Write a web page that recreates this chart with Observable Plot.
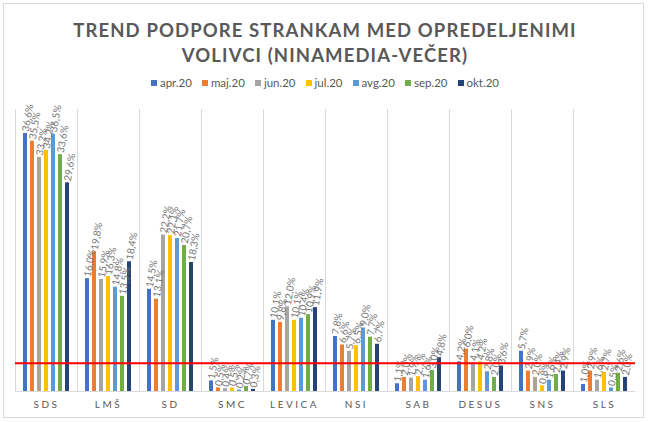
<!DOCTYPE html>
<html>
<head>
<meta charset="utf-8">
<script src="https://cdn.jsdelivr.net/npm/d3@7"></script>
<script src="https://cdn.jsdelivr.net/npm/@observablehq/plot@0.6"></script>
<style>
  html, body { margin: 0; padding: 0; background: #fff; }
  body { width: 650px; height: 422px; position: relative; overflow: hidden; font-family: Lato, "Open Sans", sans-serif; }
  #frame { position: absolute; left: 3px; top: 3px; width: 641px; height: 415px; border: 1px solid #d9d9d9; box-sizing: border-box; }
  #title { position: absolute; left: 0; width: 650px; top: 18px; text-align: center; font-family: Lato, sans-serif; font-weight: bold; font-size: 18.5px; line-height: 25px; letter-spacing: 1.1px; color: #595959; }
  #legend { position: absolute; left: 0; width: 650px; top: 76px; text-align: center; font-family: Lato, sans-serif; font-size: 11.5px; color: #595959; }
  #legend span.item { display: inline-block; margin: 0 5px; }
  #legend span.sw { display: inline-block; width: 6px; height: 6px; margin-right: 3px; vertical-align: 1px; }
  #chart { position: absolute; left: 0; top: 95px; }
  #chart svg { overflow: visible; }
  #chart g[aria-label^="fx-axis"] text { letter-spacing: 2.5px; }
</style>
</head>
<body>
<div id="frame"></div>
<div id="title">TREND PODPORE STRANKAM MED OPREDELJENIMI<br>VOLIVCI (NINAMEDIA-VEČER)</div>
<div id="legend"></div>
<div id="chart"></div>
<script>
const parties = ["SDS", "LMŠ", "SD", "SMC", "LEVICA", "NSI", "SAB", "DESUS", "SNS", "SLS"];
const months = ["apr.20", "maj.20", "jun.20", "jul.20", "avg.20", "sep.20", "okt.20"];
const colors = ["#4472C4", "#ED7D31", "#A5A5A5", "#FFC000", "#5B9BD5", "#70AD47", "#264478"];

const apr20 = [36.6, 16.0, 14.5, 1.5, 10.1, 7.8, 1.1, 4.2, 5.7, 1.0];
const maj20 = [35.5, 19.8, 13.1, 0.5, 9.8, 6.6, 2.0, 6.0, 2.9, 2.9];
const jun20 = [33.2, 15.9, 22.2, 0.4, 12.0, 5.7, 1.9, 4.1, 2.0, 1.6];
const jul20 = [34.2, 16.3, 22.1, 0.5, 10.1, 6.5, 2.1, 4.2, 0.8, 2.7];
const avg20 = [36.5, 14.8, 21.7, 0.2, 10.4, 9.0, 1.6, 2.8, 1.6, 0.5];
const sep20 = [33.6, 13.5, 20.7, 0.7, 10.9, 7.7, 3.0, 2.0, 2.4, 2.6];
const okt20 = [29.6, 18.4, 18.3, 0.3, 11.9, 6.7, 4.8, 3.6, 2.9, 2.0];
const threshold = [4];

const series = [apr20, maj20, jun20, jul20, avg20, sep20, okt20];
const data = [];
parties.forEach((p, i) => {
  months.forEach((m, j) => {
    data.push({party: p, month: m, value: series[j][i]});
  });
});

// legend
const legend = document.getElementById("legend");
months.forEach((m, j) => {
  const it = document.createElement("span");
  it.className = "item";
  it.innerHTML = `<span class="sw" style="background:${colors[j]}"></span>${m}`;
  legend.appendChild(it);
});

const fmt = v => v.toFixed(1).replace(".", ",") + "%";

const chart = Plot.plot({
  width: 650,
  height: 321,
  marginTop: 14,
  marginBottom: 25,
  marginLeft: 15,
  marginRight: 15,
  style: {fontFamily: "Lato, 'Open Sans', sans-serif", fontSize: "10px", color: "#595959", background: "transparent"},
  fx: {domain: parties, padding: 0, label: null, tickSize: 0, tickPadding: 9, axis: "bottom"},
  x: {domain: months, paddingInner: 0.43, paddingOuter: 1.14, axis: null},
  y: {domain: [0, 40], axis: null},
  color: {domain: months, range: colors},
  marks: [
    Plot.frame({anchor: "left", stroke: "#d9d9d9"}),
    Plot.barY(data, {fx: "party", x: "month", y: "value", fill: "month"}),
    Plot.text(data, {fx: "party", x: "month", y: "value", text: d => fmt(d.value), rotate: -80, textAnchor: "start", lineAnchor: "middle", dy: -2, fill: "#767676", fontSize: 10}),
    Plot.ruleY([0], {stroke: "#d9d9d9"}),
    Plot.ruleY(threshold, {stroke: "#ff0000", strokeWidth: 2})
  ]
});
// no gridline at the left edge of the first category
const frames = chart.querySelectorAll('[aria-label="frame"]');
if (frames.length > 1) frames[0].remove();
document.getElementById("chart").appendChild(chart);
</script>
</body>
</html>
